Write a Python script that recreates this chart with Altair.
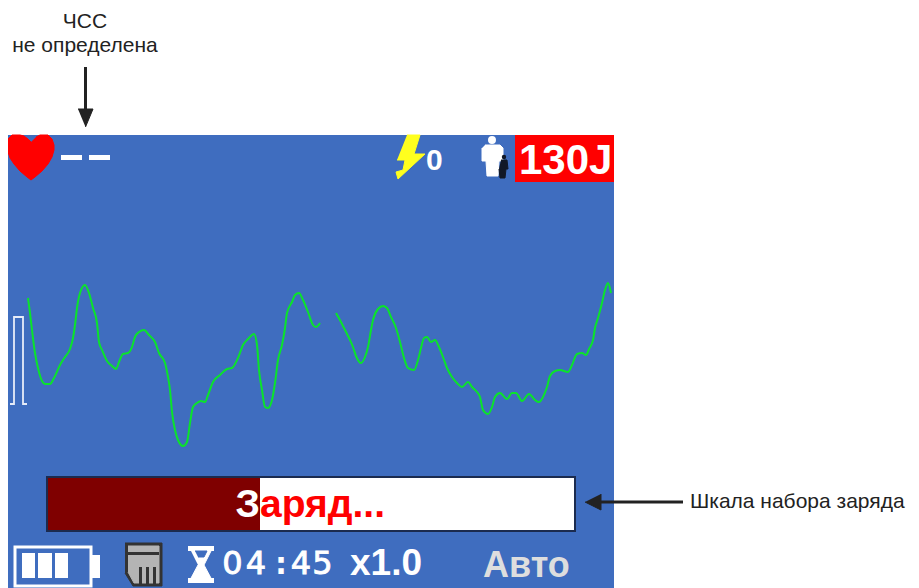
import altair as alt
import pandas as pd

# ECG trace, screen-read values
trace_a_x = [28,30,32,35,38,42,45,50,54,60,65,70,73,75,77,80,85,89,93,97,99,102,107,112,116,119,123,128,132,135,139,144,149,155,159,165,168,170,172,175,178,183,187,190,193,197,201,205,208,213,220,227,232,238,243,248,254,257,259,262,265,268,272,275,278,282,285,287,292,295,299,303,308,313,316,320]
trace_a_y = [298,313,330,353,368,381,384,384,378,365,357,349,338,325,308,293,285,293,308,323,342,350,361,366,369,362,354,353,347,337,332,330,335,342,353,363,377,390,412,430,440,446,442,423,407,403,401,402,395,382,375,369,368,358,345,339,334,345,370,390,407,408,400,383,360,345,328,313,302,295,293,300,312,325,327,323]
trace_b_x = [336,341,345,350,353,356,361,365,368,371,373,378,383,387,391,396,400,404,408,414,418,421,424,427,431,435,439,443,447,452,457,462,468,472,477,480,483,488,492,495,500,507,512,516,522,529,535,539,543,547,550,555,560,568,572,577,582,586,589,593,595,598,602,605,608,611]
trace_b_y = [313,322,330,340,347,356,363,357,347,330,320,309,306,308,317,328,342,358,368,370,360,348,338,337,342,340,347,357,368,377,383,387,382,387,392,397,410,414,407,397,393,399,393,393,401,394,400,402,397,387,376,371,370,372,365,354,353,355,349,340,328,318,303,290,283,293]
pulse_x = [10,14,14,23,23,27]
pulse_y = [404,404,317,317,404,404]

hr_label = ["ЧСС", "не определена"]
bar_label = "Шкала набора заряда"
charge_text = ["З", "аряд..."]
timer_chars = ["0", "4", ":", "4", "5"]

BLUE = "#3F6DBF"
INK = "#222222"

def rect(x, x2, y, y2, color, **kw):
    d = pd.DataFrame({"x": [x], "x2": [x2], "y": [y], "y2": [y2]})
    return alt.Chart(d).mark_rect(color=color, **kw).encode(
        x=alt.X("x:Q", scale=SX, axis=None), x2="x2:Q",
        y=alt.Y("y:Q", scale=SY, axis=None), y2="y2:Q")

def line(xs, ys, color, width=2, **kw):
    d = pd.DataFrame({"x": xs, "y": ys, "i": range(len(xs))})
    return alt.Chart(d).mark_line(color=color, strokeWidth=width, **kw).encode(
        x=alt.X("x:Q", scale=SX, axis=None),
        y=alt.Y("y:Q", scale=SY, axis=None), order="i:Q")

def poly(xs, ys, color):
    d = pd.DataFrame({"x": xs, "y": ys, "i": range(len(xs))})
    return alt.Chart(d).mark_line(fill=color, stroke=color, strokeWidth=1).encode(
        x=alt.X("x:Q", scale=SX, axis=None),
        y=alt.Y("y:Q", scale=SY, axis=None), order="i:Q")

def text(s, x, y, size, color, font="Liberation Sans", weight="normal", align="left", **kw):
    d = pd.DataFrame({"x": [x], "y": [y], "t": [s]})
    return alt.Chart(d).mark_text(fontSize=size, color=color, font=font, fontWeight=weight,
                                  align=align, baseline="alphabetic", **kw).encode(
        x=alt.X("x:Q", scale=SX, axis=None),
        y=alt.Y("y:Q", scale=SY, axis=None), text="t:N")

def dot(x, y, d_px, color):
    d = pd.DataFrame({"x": [x], "y": [y]})
    return alt.Chart(d).mark_circle(color=color, opacity=1, size=3.1416 * (d_px / 2) ** 2).encode(
        x=alt.X("x:Q", scale=SX, axis=None),
        y=alt.Y("y:Q", scale=SY, axis=None))

SX = alt.Scale(domain=[8, 911], nice=False, zero=False)
SY = alt.Scale(domain=[588, 8], nice=False, zero=False)

layers = [
    # panel
    rect(8, 614, 135, 588, BLUE),
    # heart
    poly([31,28,24,20,12,8,8,10,14,20,27,31,35,42,48,52,54,54,52,48,40,36],
         [142,139,136,135,135,139,152,158,164,171,177,180,177,171,164,157,150,145,139,135,135,137], "#FF0000"),
    rect(61, 82, 155, 160, "#FFFFFF"),
    rect(89, 110, 155, 160, "#FFFFFF"),
    # bolt
    poly([407,420,414,425,398,396,403,405,397], [135,135,154,154,179,172,170,160,160], "#FFFF1E"),
    text("0", 426, 170, 30, "#FFFFFF", weight="bold"),
    # person
    dot(492, 140, 9, "#FFFFFF"),
    poly([485,500,503,503,499,498,487,486,482,482], [145,145,148,161,161,176,176,161,161,148], "#FFFFFF"),
    dot(504, 157, 5, "#111827"),
    poly([501,507,508,506,505,500,499], [160,160,169,169,178,178,169], "#111827"),
    # red box
    rect(515, 614, 135, 182, "#FF0000"),
    text("130J", 519, 174, 42, "#FFFFFF", weight="bold"),
    # traces
    line(pulse_x, pulse_y, "#E6ECF8", 1.8),
    line(trace_a_x, trace_a_y, "#0BE32B", 2, interpolate="monotone"),
    line(trace_b_x, trace_b_y, "#0BE32B", 2, interpolate="monotone"),
    # charge bar
    rect(46, 576, 476, 532, "#1B2B4F"),
    rect(48, 574, 478, 530, "#FFFFFF"),
    rect(48, 260, 478, 530, "#7F0000"),
    text(charge_text[0], 260, 517, 39, "#FFFFFF", weight="bold", align="right"),
    text(charge_text[1], 260, 517, 39, "#FF0000", weight="bold"),
    # battery
    rect(15, 91, 547, 586, BLUE, stroke="#FFFFFF", strokeWidth=3),
    rect(91, 100, 555, 578, "#FFFFFF"),
    rect(22, 35, 553, 578, "#FFFFFF"),
    rect(38, 52, 553, 578, "#FFFFFF"),
    rect(55, 68, 553, 578, "#FFFFFF"),
    # SD card
    poly([125,162,162,133,125], [543,543,586,586,573], "#333333"),
    poly([128,159,159,134,128], [546,546,583,583,572], "#B4B4B4"),
    rect(128, 159, 552, 555, "#333333"),
    rect(139, 142, 567, 584, "#333333"),
    rect(146, 149, 567, 584, "#333333"),
    rect(153, 156, 567, 584, "#333333"),
    # hourglass
    rect(188, 214, 546, 551, "#FFFFFF"),
    rect(188, 214, 578, 583, "#FFFFFF"),
    poly([190,212,204,212,190,198], [549,549,565,580,580,565], "#FFFFFF"),
    poly([195,207,204,198], [551,551,557,557], BLUE),
    # timer
    text(timer_chars[0], 232.5, 574, 32, "#FFFFFF", font="DejaVu Sans", align="center", stroke="#FFFFFF", strokeWidth=0.9),
    text(timer_chars[1], 256, 574, 32, "#FFFFFF", font="DejaVu Sans", align="center", stroke="#FFFFFF", strokeWidth=0.9),
    text(timer_chars[2], 281, 574, 30, "#FFFFFF", font="DejaVu Sans", align="center", weight="bold"),
    text(timer_chars[3], 301, 574, 32, "#FFFFFF", font="DejaVu Sans", align="center", stroke="#FFFFFF", strokeWidth=0.9),
    text(timer_chars[4], 322.5, 574, 32, "#FFFFFF", font="DejaVu Sans", align="center", stroke="#FFFFFF", strokeWidth=0.9),
    text("x1.0", 350, 575, 37, "#FFFFFF", weight="bold"),
    text("Авто", 483, 577, 36, "#DEDEDE", weight="bold"),
    # annotations
    text(hr_label[0], 85, 28, 21, INK, align="center"),
    text(hr_label[1], 85, 52, 21, INK, align="center"),
    rect(84, 87, 67, 110, INK),
    poly([78,93,85.5], [109,109,127], INK),
    rect(601, 683, 500.5, 503.5, INK),
    poly([601,601,585], [494,510,502], INK),
    text(bar_label, 690, 508, 21, INK),
]

chart = alt.layer(*layers).properties(
    width=903, height=580, padding=0, autosize=alt.AutoSizeParams(type="none")
).configure_view(stroke=None)

chart.save("out.html", embed_options={"renderer": "svg", "actions": False})
